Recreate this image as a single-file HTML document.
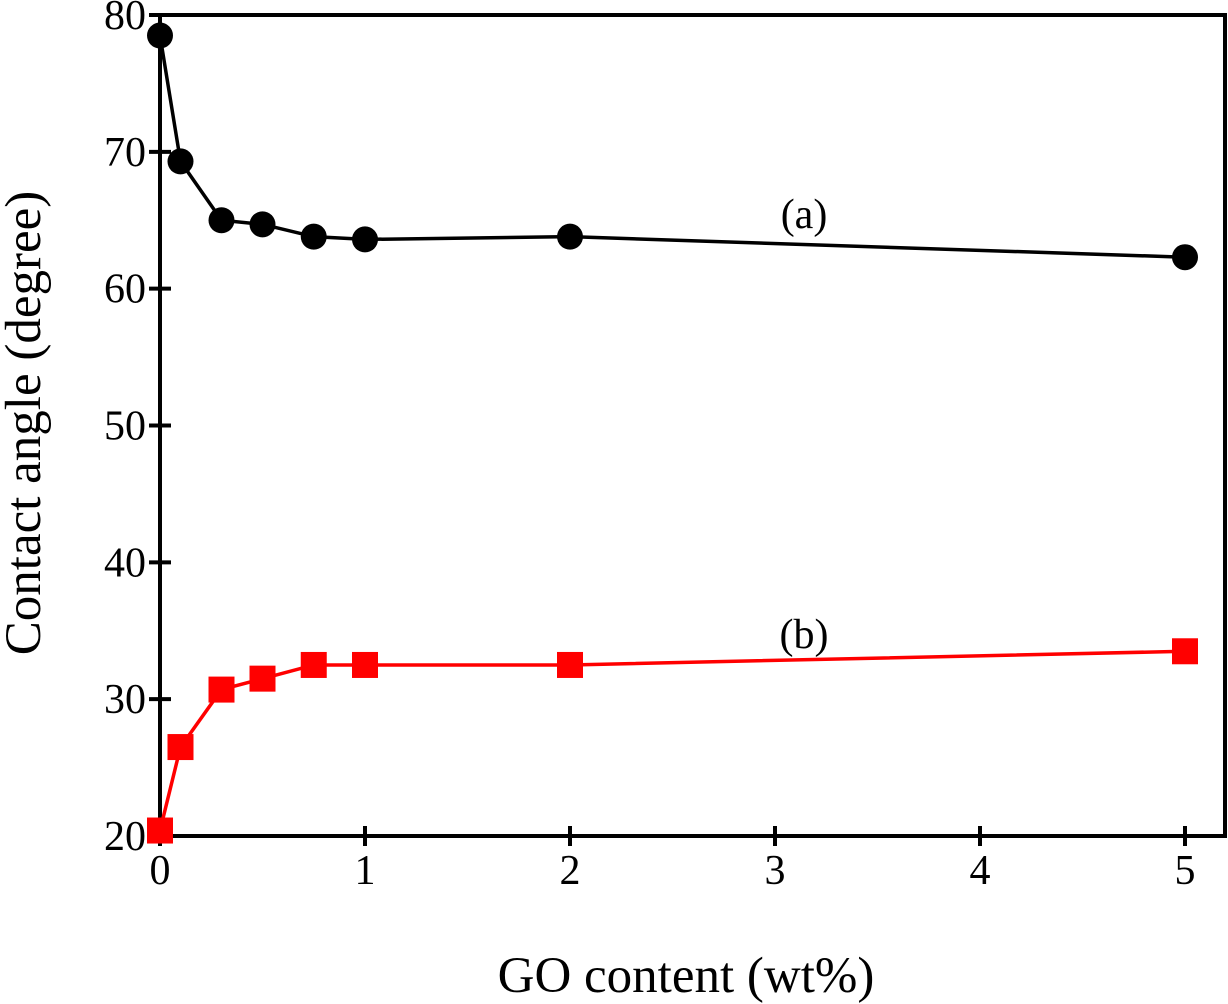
<!DOCTYPE html>
<html><head><meta charset="utf-8"><style>
html,body{margin:0;padding:0;background:#fff;}
svg{display:block;font-family:"Liberation Serif",serif;}
</style></head><body>
<svg id="chart" width="1228" height="1004" viewBox="0 0 1228 1004">
<g id="axes"></g><g id="series"></g>
<text x="686" y="992" font-size="51" text-anchor="middle">GO content (wt%)</text>
<text transform="translate(40,423) rotate(-90)" font-size="51" text-anchor="middle">Contact angle (degree)</text>
<text x="804" y="228" font-size="42" text-anchor="middle">(a)</text>
<text x="804" y="648" font-size="42" text-anchor="middle">(b)</text>
</svg>
<script>
const xValues=[0,0.1,0.3,0.5,0.75,1,2,5];
const seriesA=[78.5,69.3,65.0,64.7,63.8,63.6,63.8,62.3];
const seriesB=[20.4,26.5,30.7,31.5,32.5,32.5,32.5,33.5];
const xTicks=[0,1,2,3,4,5];
const yTicks=[20,30,40,50,60,70,80];
const NS="http://www.w3.org/2000/svg";
const X0=160,X1=1185,Y0=836,Y1=15;
function sx(v){return X0+(v-0)/(5-0)*(X1-X0);}
function sy(v){return Y0-(v-20)/(80-20)*(Y0-Y1);}
function mk(t,a,p){const e=document.createElementNS(NS,t);for(const k in a)e.setAttribute(k,a[k]);p.appendChild(e);return e;}
const axes=document.getElementById('axes'),ser=document.getElementById('series');
const frame=mk('rect',{x:X0,y:Y1,width:1225-X0,height:Y0-Y1,fill:'none',stroke:'#000','stroke-width':4},axes);


yTicks.forEach(v=>{
 const l=mk('line',{x1:X0-11,x2:X0+11,y1:sy(v),y2:sy(v),stroke:'#000','stroke-width':4},axes);
 
 
 const t=mk('text',{x:X0-14,y:sy(v)+14,'font-size':42,'text-anchor':'end'},axes);t.textContent=v;
 
 
});
xTicks.forEach(v=>{
 const l=mk('line',{x1:sx(v),x2:sx(v),y1:Y0-10,y2:Y0+10,stroke:'#000','stroke-width':4},axes);
 
 
 const t=mk('text',{x:sx(v),y:Y0+48,'font-size':42,'text-anchor':'middle'},axes);t.textContent=v;
 
 
});
function draw(vals,color,shape,name){
 const pts=xValues.map((x,i)=>sx(x)+','+sy(vals[i])).join(' ');
 const pl=mk('polyline',{points:pts,fill:'none',stroke:color,'stroke-width':3.5},ser);
 
 
 xValues.forEach((x,i)=>{
  let m;
  if(shape==='circle')m=mk('circle',{cx:sx(x),cy:sy(vals[i]),r:13,fill:color},ser);
  else m=mk('rect',{x:sx(x)-13,y:sy(vals[i])-13,width:26,height:26,fill:color},ser);
  
  
 });
}
draw(seriesA,'#000','circle','series-a');
draw(seriesB,'#ff0000','square','series-b');
</script>
</body></html>
